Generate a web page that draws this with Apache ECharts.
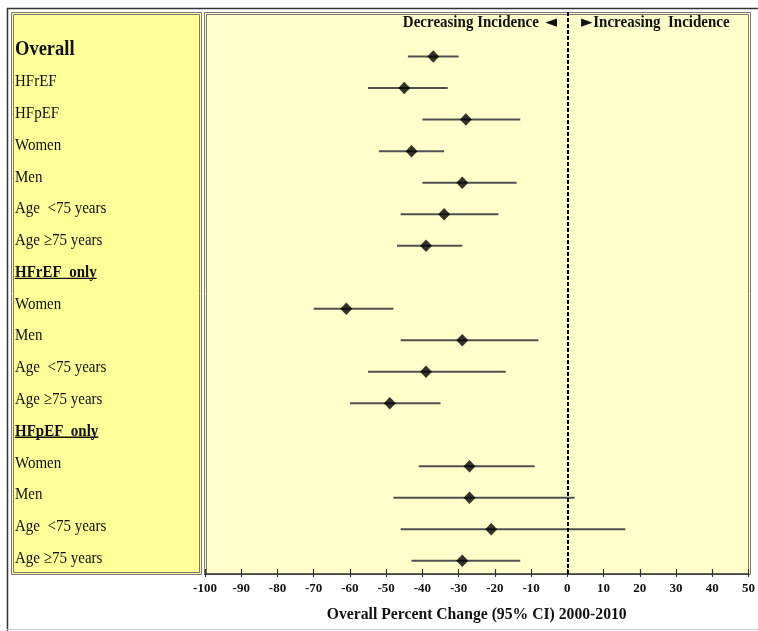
<!DOCTYPE html>
<html>
<head>
<meta charset="utf-8">
<script src="https://cdn.jsdelivr.net/npm/echarts@6/dist/echarts.min.js"></script>
<style>html,body{margin:0;padding:0;background:#fff;}#chart{width:758px;height:631px;}</style>
</head>
<body>
<div id="chart"></div>
<script>
// ---- data ----
const rowLabels = ['Overall', 'HFrEF', 'HFpEF', 'Women', 'Men', 'Age  <75 years', 'Age \u226575 years',
  'HFrEF  only', 'Women', 'Men', 'Age  <75 years', 'Age \u226575 years',
  'HFpEF  only', 'Women', 'Men', 'Age  <75 years', 'Age \u226575 years'];
const rowKind = ['title', 'n', 'n', 'n', 'n', 'n', 'n', 'header', 'n', 'n', 'n', 'n', 'header', 'n', 'n', 'n', 'n'];
const estimate = [-37, -45, -28, -43, -29, -34, -39, null, -61, -29, -39, -49, null, -27, -27, -21, -29];
const lower    = [-44, -55, -40, -52, -40, -46, -47, null, -70, -46, -55, -60, null, -41, -48, -46, -43];
const upper    = [-30, -33, -13, -34, -14, -19, -29, null, -48,  -8, -17, -35, null,  -9,   2,  16, -13];
const xMin = -100, xMax = 50, xStep = 10;
const axisTitle = 'Overall Percent Change (95% CI) 2000-2010';
const leftNote = 'Decreasing Incidence';
const rightNote = 'Increasing  Incidence';

const FONT = '"Liberation Serif", "Times New Roman", serif';
const measureCtx = document.createElement('canvas').getContext('2d');
function textWidth(t, size, weight) {
  measureCtx.font = weight + ' ' + size + 'px "Liberation Serif"';
  return measureCtx.measureText(t).width;
}

const barData = [], pointData = [], labelData = [];
rowLabels.forEach((l, i) => {
  labelData.push([xMin, i]);
  if (estimate[i] !== null) {
    barData.push([lower[i], upper[i], i]);
    pointData.push([estimate[i], i]);
  }
});

const chart = echarts.init(document.getElementById('chart'), null, {renderer: 'canvas'});
const xAxisBase = {
  type: 'value', min: xMin, max: xMax, interval: xStep,
  splitLine: {show: false}
};
chart.setOption({
  animation: false,
  backgroundColor: '#fff',
  grid: {left: 205, right: 7, top: 12, bottom: 57},
  xAxis: [
    Object.assign({}, xAxisBase, {
      axisLine: {onZero: false, lineStyle: {color: '#333', width: 1.5}},
      axisTick: {show: true, length: 3, lineStyle: {color: '#333', width: 1.2}},
      axisLabel: {color: '#111', fontFamily: FONT, fontWeight: 'bold', fontSize: 13, margin: 8},
      name: axisTitle, nameLocation: 'middle', nameGap: 33,
      nameTextStyle: {color: '#111', fontFamily: FONT, fontWeight: 'bold', fontSize: 15.7}
    }),
    Object.assign({}, xAxisBase, {
      position: 'bottom',
      axisLine: {show: false, onZero: false},
      axisTick: {show: true, inside: true, length: 5, lineStyle: {color: '#333', width: 1.2}},
      axisLabel: {show: false}
    })
  ],
  yAxis: [
    {type: 'value', min: -1.4154, max: 16.42, inverse: true, show: false},
    {type: 'value', min: -1.196, max: 16.494, inverse: true, show: false}
  ],
  graphic: [
    {type: 'line', z: -5, shape: {x1: 7, y1: 8.5, x2: 758, y2: 8.5}, style: {stroke: '#333', lineWidth: 1.5}},
    {type: 'line', z: -5, shape: {x1: 7.5, y1: 8, x2: 7.5, y2: 631}, style: {stroke: '#333', lineWidth: 1.5}},
    {type: 'line', z: -5, shape: {x1: 7, y1: 629.5, x2: 758, y2: 629.5}, style: {stroke: '#ccc', lineWidth: 1}},
    {type: 'rect', z: -4, shape: {x: 11.5, y: 12.5, width: 190, height: 562}, style: {fill: '#FFFF99', stroke: '#7a7a7a', lineWidth: 1}},
    {type: 'rect', z: -3, shape: {x: 13.5, y: 14.5, width: 186, height: 558}, style: {fill: 'none', stroke: '#7a7a7a', lineWidth: 1}},
    {type: 'rect', z: -4, shape: {x: 204.5, y: 12.5, width: 546, height: 562}, style: {fill: '#FFFFCC', stroke: '#7a7a7a', lineWidth: 1}},
    {type: 'rect', z: -3, shape: {x: 206.5, y: 14.5, width: 542, height: 560}, style: {fill: 'none', stroke: '#7a7a7a', lineWidth: 1}},
    {type: 'text', z: 5, x: 557, y: 23, scaleY: 1.1, style: {
      text: '{t|' + leftNote + '}  {a|\u25C4}', textAlign: 'right', textVerticalAlign: 'middle',
      rich: {t: {fill: '#111', font: 'bold 15px ' + FONT}, a: {fill: '#111', font: '15px "DejaVu Sans"'}}
    }},
    {type: 'text', z: 5, x: 581, y: 23, scaleY: 1.1, style: {
      text: '{a|\u25BA}{s| }{t|' + rightNote + '}', textAlign: 'left', textVerticalAlign: 'middle',
      rich: {t: {fill: '#111', font: 'bold 15px ' + FONT}, a: {fill: '#111', font: '15px "DejaVu Sans"'}, s: {font: '3px ' + FONT}}
    }}
  ],
  series: [
    {
      name: 'labels', type: 'custom', clip: false, silent: true, z: 4,
      yAxisIndex: 1,
      data: labelData,
      renderItem: function (params, api) {
        const i = api.value(1);
        const p = api.coord([api.value(0), i]);
        const kind = rowKind[i];
        const size = kind === 'title' ? 18.5 : 15;
        const weight = kind === 'n' ? 'normal' : 'bold';
        const x = p[0] - 190, y = p[1];
        const children = [{
          type: 'text', x: x, y: y, scaleY: 1.15,
          style: {text: rowLabels[i], fill: '#111', font: weight + ' ' + size + 'px ' + FONT, textAlign: 'left', textVerticalAlign: 'middle'}
        }];
        if (kind === 'header') {
          const w = textWidth(rowLabels[i], size, weight);
          children.push({type: 'line', shape: {x1: x, y1: y + 6, x2: x + w, y2: y + 6}, style: {stroke: '#111', lineWidth: 1.3}});
        }
        return {type: 'group', children: children};
      }
    },
    {
      name: 'ci', type: 'custom', z: 3,
      yAxisIndex: 0,
      encode: {x: [0, 1], y: 2},
      data: barData,
      renderItem: function (params, api) {
        const a = api.coord([api.value(0), api.value(2)]);
        const b = api.coord([api.value(1), api.value(2)]);
        return {type: 'line', shape: {x1: a[0], y1: a[1], x2: b[0], y2: b[1]}, style: {stroke: '#505050', lineWidth: 2}};
      }
    },
    {
      name: 'estimate', type: 'scatter', z: 5,
      yAxisIndex: 0,
      symbol: 'diamond', symbolSize: [12, 12.5],
      itemStyle: {color: '#000'},
      data: pointData,
      markLine: {
        silent: true, symbol: 'none', label: {show: false},
        lineStyle: {color: '#000', type: [4, 2], width: 2},
        data: [{xAxis: 0}]
      }
    }
  ]
});
</script>
</body>
</html>
